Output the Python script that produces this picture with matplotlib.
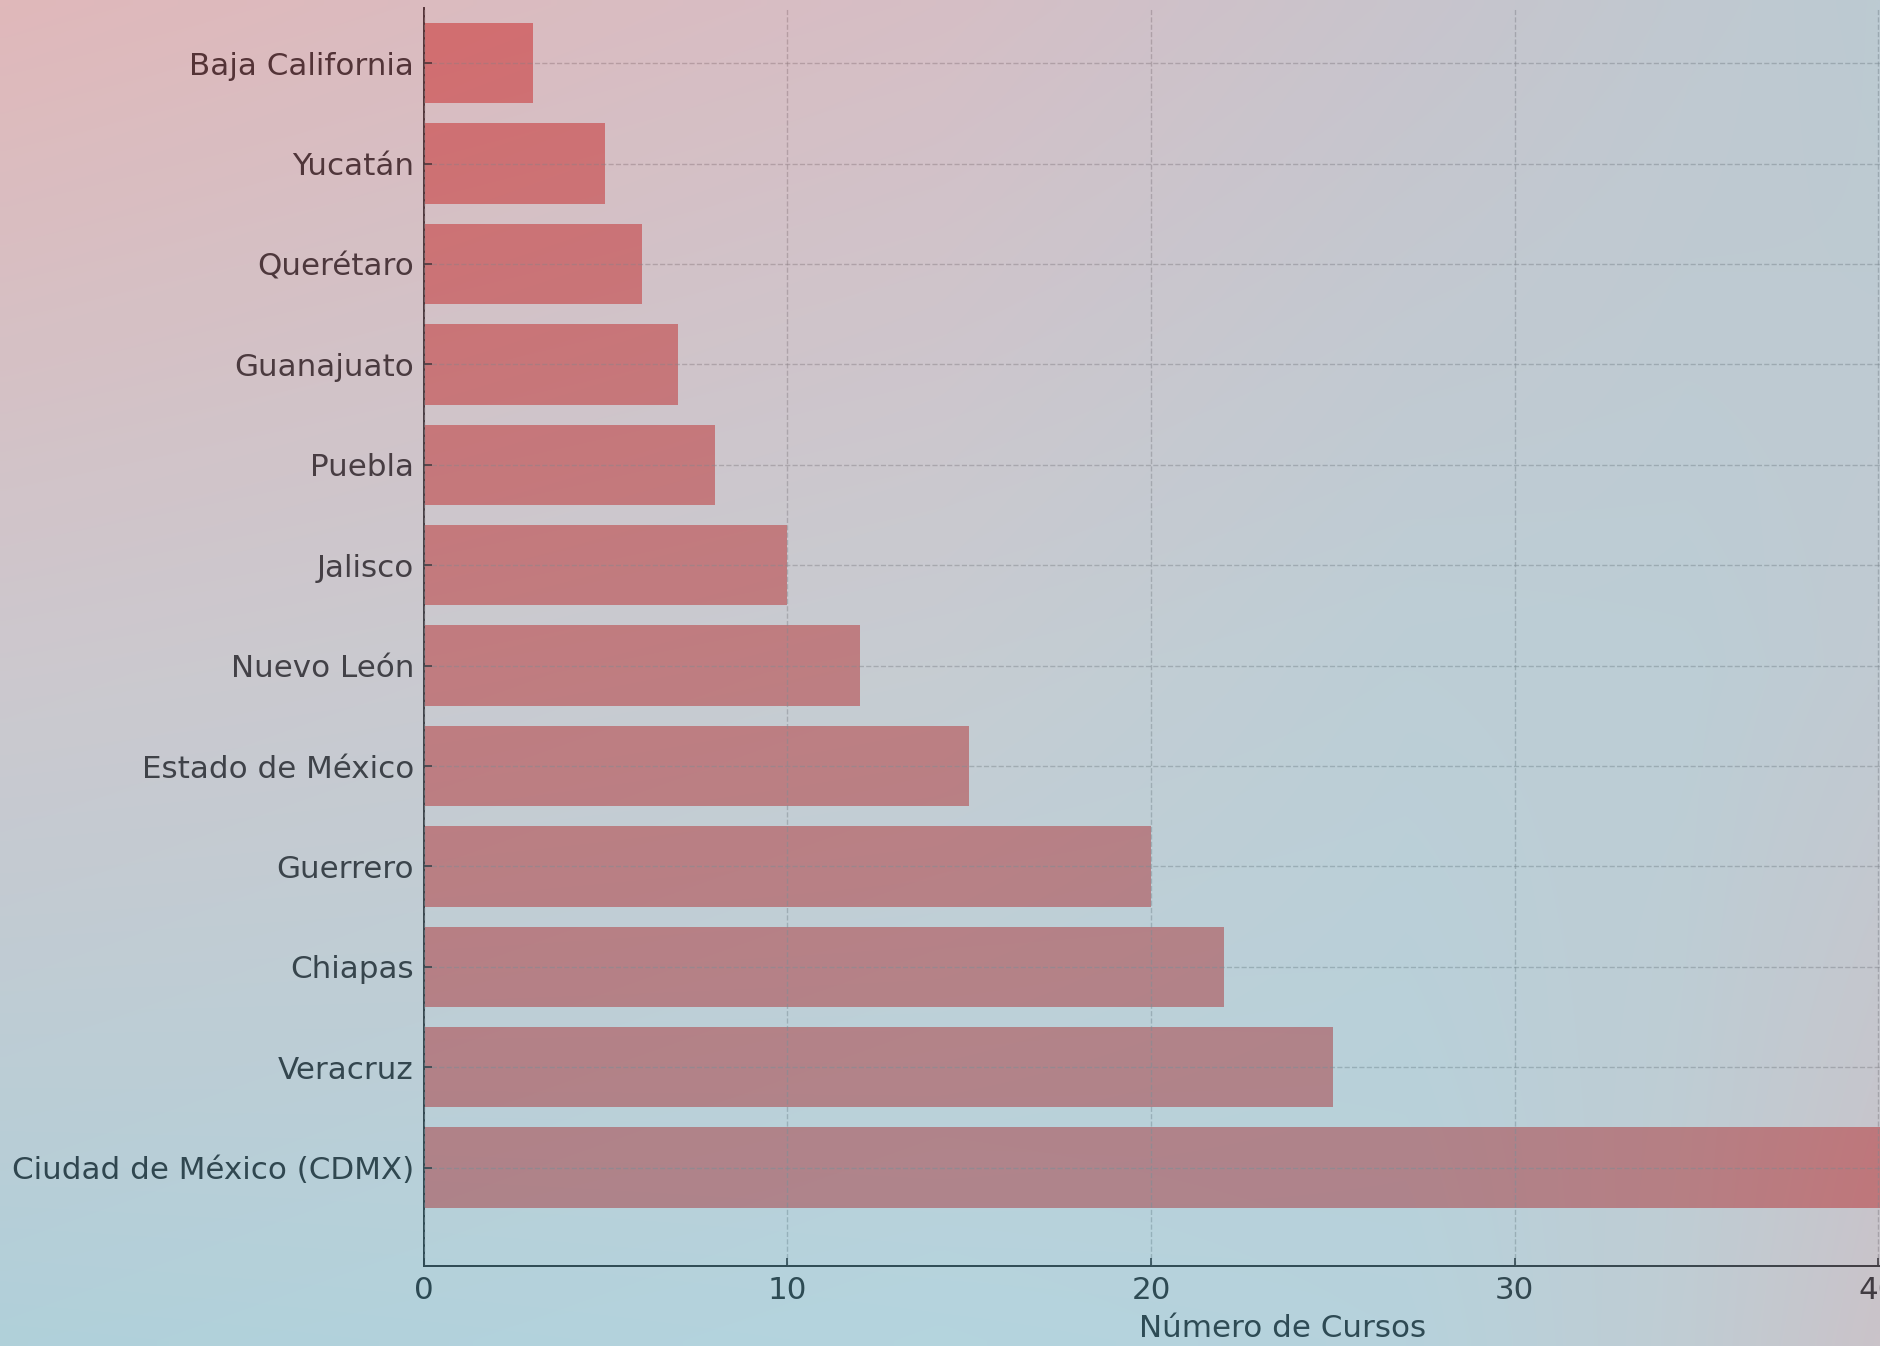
import numpy as np
import matplotlib
matplotlib.use("Agg")
import matplotlib.pyplot as plt

estados = ["Ciudad de México (CDMX)", "Veracruz", "Chiapas", "Guerrero",
           "Estado de México", "Nuevo León", "Jalisco", "Puebla",
           "Guanajuato", "Querétaro", "Yucatán", "Baja California"]
cursos = [45, 25, 22, 20, 15, 12, 10, 8, 7, 6, 5, 3]
xticks = [0, 10, 20, 30, 40]

# colour wash laid over the whole picture (what a white pixel turns into)
us = [0, 0.5, 0.75, 0.9, 1]
vs = [0, 0.5, 1]
wash = np.array([
    [[224, 184, 186], [214, 190, 197], [200, 196, 204], [192, 200, 208], [188, 202, 210]],
    [[204, 200, 206], [198, 204, 210], [188, 206, 214], [188, 205, 213], [192, 202, 210]],
    [[176, 208, 218], [180, 212, 222], [182, 210, 220], [192, 204, 211], [202, 195, 201]],
], dtype=float)
beta = 0.45

fig = plt.figure(figsize=(18.81, 13.46), dpi=100)
fig.patch.set_facecolor("white")
ax = fig.add_axes([423.6 / 1881, 80 / 1346, 1718.5 / 1881, 1258 / 1346])
ax.set_facecolor("white")

y = np.arange(len(estados))
ax.barh(y, cursos, height=0.8, color="#ef736f", zorder=1)
ax.set_yticks(y)
ax.set_yticklabels(estados)
ax.set_xticks(xticks)
ax.set_xlim(0, 47.25)
ax.set_ylim(-0.98, 11.55)
ax.set_xlabel("Número de Cursos", fontsize=22.3, labelpad=7, color="#0a0a0a")

ax.grid(True, linestyle="--", color="#888888", alpha=0.5, linewidth=1)
ax.set_axisbelow(False)
for s in ["top", "right"]:
    ax.spines[s].set_visible(False)
for s in ["left", "bottom"]:
    ax.spines[s].set_linewidth(1.4)
    ax.spines[s].set_color("#0a0a0a")
ax.tick_params(direction="in", length=6, width=1.2, pad=7, labelsize=22.3,
               colors="#0a0a0a")

# build the wash image
W, H = 188, 135
u = np.linspace(0, 1, W)
v = np.linspace(0, 1, H)
rows = np.array([[np.interp(u, us, wash[i, :, c]) for c in range(3)] for i in range(3)])
img = np.empty((H, W, 3))
for c in range(3):
    for j in range(W):
        img[:, j, c] = np.interp(v, vs, rows[:, c, j])
G = np.clip((img - 255 * (1 - beta)) / beta / 255, 0, 1)

over = fig.add_axes([0, 0, 1, 1], zorder=10)
over.imshow(G, aspect="auto", alpha=beta, interpolation="bilinear")
over.axis("off")

fig.savefig("out.png", dpi=100)
